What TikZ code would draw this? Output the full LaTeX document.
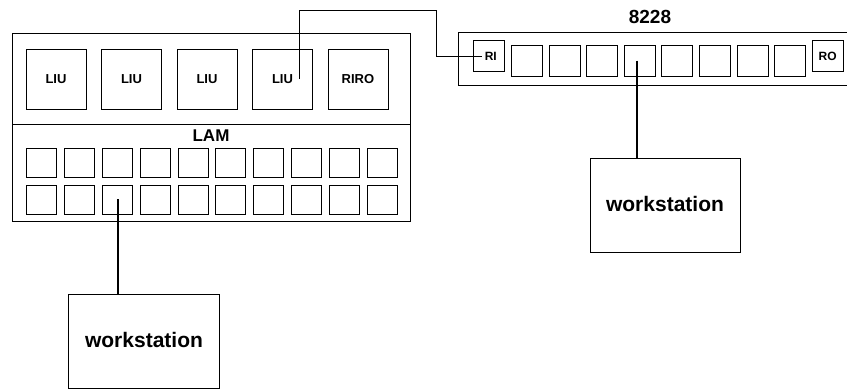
\documentclass[tikz,border=0pt]{standalone}
\usepackage{fontspec}
\setmainfont{Liberation Sans}
\usetikzlibrary{matrix}

\tikzset{
  port/.style={draw, line width=0.9pt, minimum width=30pt, minimum height=29pt, inner sep=0pt, font=\bfseries\fontsize{12}{12}\selectfont},
  module/.style={draw, line width=0.9pt, minimum size=60pt, inner sep=0pt, font=\bfseries\fontsize{13}{13}\selectfont},
  wsbox/.style={draw, line width=1pt, minimum width=151pt, minimum height=94pt, inner sep=0pt, font=\bfseries\fontsize{21}{21}\selectfont},
  cable/.style={line width=2pt},
}

\begin{document}
\begin{tikzpicture}[x=1pt,y=-1pt]
\useasboundingbox (0,0) rectangle (847,390);
% LAM
\draw[line width=1pt] (12,34) rectangle (410,222);
\draw[line width=1pt] (12,125) -- (410,125);
\matrix [matrix of nodes, nodes={module}, column sep=14.6pt] (mods) at (207,79)
{
  LIU & LIU & LIU & LIU & RIRO \\
};
\node[font=\bfseries\fontsize{17}{17}\selectfont] (lamlabel) at (211,136) {LAM};
\matrix [matrix of nodes, nodes in empty cells, nodes={port}, column sep=6.9pt, row sep=7.1pt] (lam) at (212,181)
{
  & & & & & & & & & \\
  & & & & & & & & & \\
};
% 8228
\draw[line width=1pt] (458,33) rectangle (860,86);
\node[font=\bfseries\fontsize{19}{19}\selectfont] (hublabel) at (650,17) {8228};
\matrix [matrix of nodes, nodes in empty cells, nodes={port, minimum width=31pt, minimum height=31pt}, column sep=5.7pt] (mau) at (658.5,58.5)
{
  \hspace*{3pt}RI & & & & & & & & & RO \\
};
% workstations
\node[wsbox] (wsl) at (144,342) {\raisebox{4pt}{workstation}};
\node[wsbox, minimum width=150pt] (wsr) at (665,206) {\raisebox{4pt}{workstation}};
\draw[cable] (lam-2-3.center) -- (lam-2-3.center |- wsl.north);
\draw[cable] ([xshift=-3pt]mau-1-5.center) -- ([xshift=-3pt]mau-1-5.center |- wsr.north);
% ring in
\coordinate (liuout) at ([xshift=17pt]mods-1-4.center);
\coordinate (bend) at (436,11);
\coordinate (ritap) at ([xshift=-7pt]mau-1-1.center);
\draw[line width=1pt] (liuout) |- (bend) |- (ritap);
\end{tikzpicture}
\end{document}
